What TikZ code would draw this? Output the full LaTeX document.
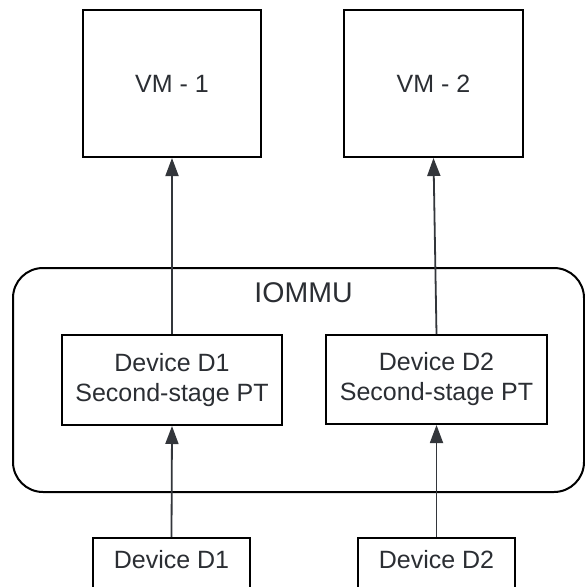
\documentclass[tikz,border=0pt]{standalone}
\usepackage{fontspec}
\setmainfont{Liberation Sans}
\usetikzlibrary{arrows.meta}
\definecolor{txt}{HTML}{2B2E33}
\definecolor{arr}{HTML}{33363B}
\tikzset{
  box/.style={draw=black, line width=2pt, fill=white, inner sep=0pt, align=center,
    text=txt, font=\fontsize{25}{30}\selectfont},
  conn/.style={draw=arr, line width=1.8pt, -{Triangle[length=18pt,width=13pt]}},
  grp/.style={draw=black, line width=2pt, rounded corners=30pt},
  title/.style={text=txt, font=\fontsize{28.5}{34}\selectfont, inner sep=0pt}
}
\begin{document}
\begin{tikzpicture}[x=1pt,y=-1pt]
\useasboundingbox (0,0) rectangle (585,587);
\clip (0,0) rectangle (585,587);
% IOMMU group
\draw[grp] (13,268) rectangle (584,492);
\node[title] (iommu) at (303.5,293) {IOMMU};
% VMs
\node[box, minimum width=178pt, minimum height=147pt] (vm1) at (172,83.5) {VM - 1};
\node[box, minimum width=179pt, minimum height=147pt] (vm2) at (433.5,83.5) {VM - 2};
% second-stage page tables
\node[box, minimum width=220pt, minimum height=90pt] (p1) at (172,380) {Device D1\\Second-stage PT};
\node[box, minimum width=221pt, minimum height=89pt] (p2) at (436.5,379.5) {Device D2\\Second-stage PT};
% devices (cut off by the bottom edge)
\node[box, anchor=north, minimum width=157pt, text height=30pt, text depth=80pt] (d1) at (171.5,537) {Device D1};
\node[box, anchor=north, minimum width=157pt, text height=30pt, text depth=80pt] (d2) at (436.5,537) {Device D2};
% connectors
\draw[conn] (d1.north) -- (p1.south);
\draw[conn] (d2.north) -- (p2.south);
\draw[conn] (p1.north) -- (vm1.south);
\draw[conn] (p2.north) -- (vm2.south);
\end{tikzpicture}
\end{document}
